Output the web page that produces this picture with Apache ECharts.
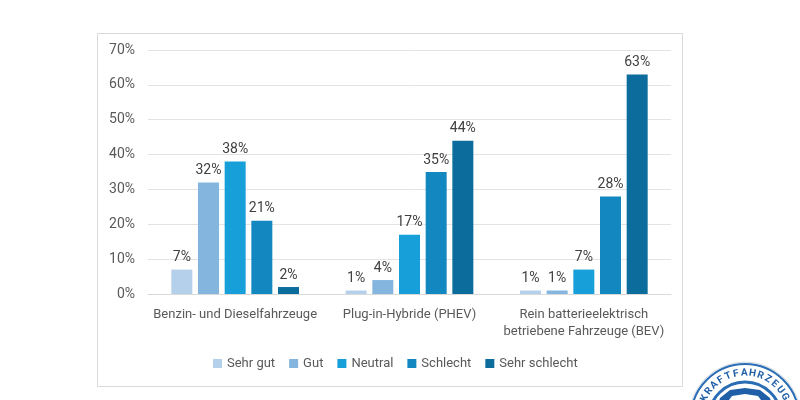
<!DOCTYPE html>
<html><head><meta charset="utf-8">
<script src="https://cdn.jsdelivr.net/npm/echarts@6/dist/echarts.min.js"></script>
<style>html,body{margin:0;padding:0;background:#fff}#c{width:800px;height:400px}</style>
</head><body><div id="c"></div>
<script>
const categories = ['Benzin- und Dieselfahrzeuge', 'Plug-in-Hybride (PHEV)', 'Rein batterieelektrisch\nbetriebene Fahrzeuge (BEV)'];
const seriesNames = ['Sehr gut', 'Gut', 'Neutral', 'Schlecht', 'Sehr schlecht'];
const sehrGut = [7, 1, 1];
const gut = [32, 4, 1];
const neutral = [38, 17, 7];
const schlecht = [21, 35, 28];
const sehrSchlecht = [2, 44, 63];
const colors = ['#b4d0ea', '#84b5de', '#179fd9', '#1388c0', '#0c6d9d'];

const chart = echarts.init(document.getElementById('c'));
const values = [sehrGut, gut, neutral, schlecht, sehrSchlecht];
const font = 'Roboto, "Noto Sans", sans-serif';

// logo letters along arc
const logoText = 'KRAFTFAHRZEUGE';
const cx = 745, cy = 418, r = 45;
const letters = [];
for (let i = 0; i < logoText.length; i++) {
  const a = (-154 + i * 10.5) * Math.PI / 180;
  letters.push({
    type: 'text', x: cx + r * Math.cos(a), y: cy + r * Math.sin(a),
    rotation: -(a + Math.PI / 2),
    style: { text: logoText[i], fill: '#1f5fa8', font: 'bold 10px ' + font, align: 'center', verticalAlign: 'middle' },
    z: 12
  });
}

chart.setOption({
  animation: false,
  textStyle: { fontFamily: font },
  graphic: [
    { type: 'rect', shape: { x: 97.5, y: 33.5, width: 585, height: 353 }, style: { fill: 'none', stroke: '#d9d9d9', lineWidth: 1 }, z: -1 },
    { type: 'circle', shape: { cx: cx, cy: cy, r: 56 }, style: { fill: '#fff', stroke: '#d0d8e0', lineWidth: 1 }, z: 10 },
    { type: 'circle', shape: { cx: cx, cy: cy, r: 54 }, style: { fill: '#fff', stroke: '#2a6db5', lineWidth: 2 }, z: 10 },
    { type: 'circle', shape: { cx: cx, cy: cy, r: 36 }, style: { fill: '#fff', stroke: '#2a6db5', lineWidth: 3 }, z: 11 },
    { type: 'polygon', shape: { points: [[716, 412], [720, 398], [730, 390], [745, 388], [760, 390], [770, 398], [774, 412]] }, style: { fill: '#1f5fa8' }, z: 12 },
    { type: 'polygon', shape: { points: [[726, 404], [732, 396], [745, 394], [758, 396], [764, 404]] }, style: { fill: '#fff' }, z: 13 }
  ].concat(letters),
  legend: {
    data: seriesNames,
    bottom: 25,
    left: 208,
    itemWidth: 9, itemHeight: 9, itemGap: 14,
    icon: 'rect',
    textStyle: { color: '#595959', fontSize: 13, fontFamily: font }
  },
  grid: { left: 148, right: 129, top: 50, bottom: 106 },
  xAxis: {
    type: 'category', data: categories,
    axisLine: { lineStyle: { color: '#d9d9d9' } },
    axisTick: { show: false },
    axisLabel: { color: '#595959', fontSize: 13, margin: 12, lineHeight: 17, interval: 0 }
  },
  yAxis: {
    type: 'value', min: 0, max: 70, interval: 10,
    axisLabel: { formatter: '{value}%', color: '#595959', fontSize: 14, margin: 13 },
    splitLine: { lineStyle: { color: '#e3e3e3' } },
    axisLine: { show: false }, axisTick: { show: false }
  },
  series: seriesNames.map((n, i) => ({
    name: n, type: 'bar', data: values[i],
    barWidth: 21, barGap: '27%',
    itemStyle: { color: colors[i] },
    label: { show: true, position: 'top', formatter: '{c}%', color: '#404040', fontSize: 14, distance: 5 }
  }))
});
</script></body></html>
